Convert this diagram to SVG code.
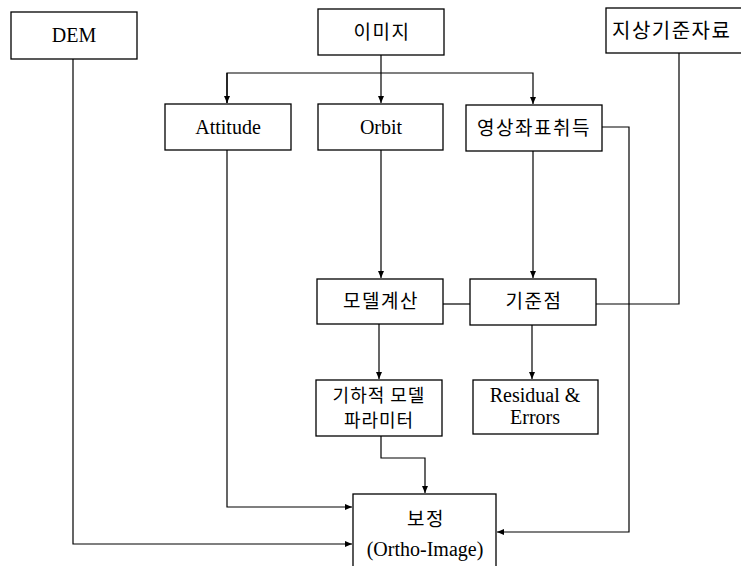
<svg xmlns="http://www.w3.org/2000/svg" width="741" height="566" viewBox="0 0 741 566">
<style>
.box{fill:#fff;stroke:#000;stroke-width:1.3}
.en{font-family:"Liberation Serif","Times New Roman",serif;font-size:20px;fill:#000;text-anchor:middle}
.ko{font-family:"Noto Sans CJK KR","Noto Sans",sans-serif;font-size:19px;fill:#000;text-anchor:middle;letter-spacing:1.5px}
.ko2{font-family:"Noto Sans CJK KR","Noto Sans",sans-serif;font-size:18px;fill:#000;text-anchor:middle;letter-spacing:1px}
.ln{fill:none;stroke:#000;stroke-width:1.2}
</style>
<defs>
<marker id="ar" markerWidth="8" markerHeight="8" refX="7" refY="4" orient="auto" markerUnits="userSpaceOnUse">
<path d="M0,1 L7,4 L0,7 Z" fill="#000"/>
</marker>
</defs>
<rect width="741" height="566" fill="#fff"/>
<g id="connectors">
<path class="ln" d="M381,55 V103" marker-end="url(#ar)"/>
<path class="ln" d="M227,103 V73 H533 V104" marker-end="url(#ar)"/>
<path class="ln" d="M227,73 V103" marker-end="url(#ar)"/>
<path class="ln" d="M381,150 V278" marker-end="url(#ar)"/>
<path class="ln" d="M533,151 V278" marker-end="url(#ar)"/>
<path class="ln" d="M602,127 H629 V532 H497" marker-end="url(#ar)"/>
<path class="ln" d="M679,53 V304 H596"/>
<path class="ln" d="M443,304 H470"/>
<path class="ln" d="M379,324 V379" marker-end="url(#ar)"/>
<path class="ln" d="M532,325 V379" marker-end="url(#ar)"/>
<path class="ln" d="M381,436 V458 H425 V493" marker-end="url(#ar)"/>
<path class="ln" d="M227,150 V507 H352" marker-end="url(#ar)"/>
<path class="ln" d="M73,59 V544 H352" marker-end="url(#ar)"/>
</g>
<g id="dem"><rect class="box" x="11" y="12" width="126" height="47"/><text class="en" x="74" y="42">DEM</text></g>
<g id="image"><rect class="box" x="318" y="9" width="126" height="46"/><text class="ko" x="382" y="39">이미지</text></g>
<g id="gcp-data"><rect class="box" x="606" y="8" width="145" height="45"/><text class="ko" x="612" y="38" style="text-anchor:start;font-size:20px">지상기준자료</text></g>
<g id="attitude"><rect class="box" x="165" y="104" width="126" height="46"/><text class="en" x="228" y="134">Attitude</text></g>
<g id="orbit"><rect class="box" x="318" y="104" width="125" height="46"/><text class="en" x="381" y="134">Orbit</text></g>
<g id="img-coord"><rect class="box" x="466" y="105" width="136" height="46"/><text class="ko" x="534" y="135">영상좌표취득</text></g>
<g id="model-calc"><rect class="box" x="317" y="279" width="126" height="45"/><text class="ko" x="381" y="308">모델계산</text></g>
<g id="gcp"><rect class="box" x="470" y="279" width="126" height="46"/><text class="ko" x="534" y="308">기준점</text></g>
<g id="geo-param"><rect class="box" x="316" y="380" width="126" height="56"/><text class="ko2" x="379" y="402">기하적 모델</text><text class="ko2" x="379" y="427">파라미터</text></g>
<g id="residual"><rect class="box" x="473" y="380" width="125" height="54"/><text class="en" x="535" y="402">Residual &amp;</text><text class="en" x="535" y="424">Errors</text></g>
<g id="ortho"><rect class="box" x="353" y="494" width="143" height="80"/><text class="ko" x="426" y="526">보정</text><text class="en" x="425" y="556">(Ortho-Image)</text></g>
</svg>
